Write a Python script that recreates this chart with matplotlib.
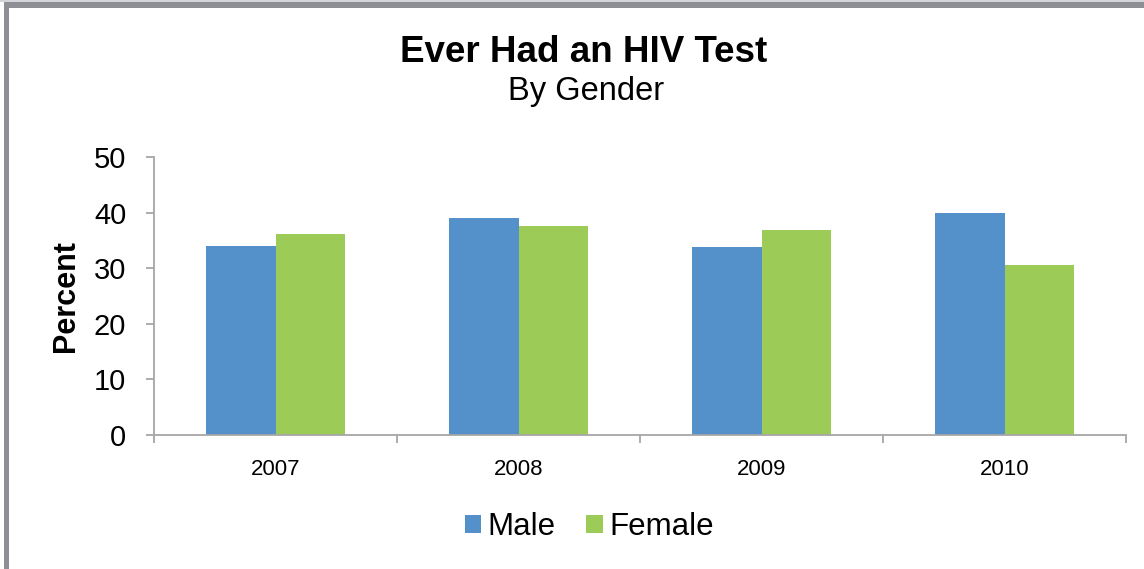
import matplotlib
matplotlib.use("Agg")
import matplotlib.pyplot as plt
import numpy as np
from matplotlib.patches import Rectangle

# chart data
years = ["2007", "2008", "2009", "2010"]
male = [34.0, 39.0, 33.8, 40.0]
female = [36.1, 37.5, 36.9, 30.5]
series_names = ["Male", "Female"]
y_ticks = [0, 10, 20, 30, 40, 50]

plt.rcParams['font.family'] = ['Liberation Sans', 'DejaVu Sans']

W, H = 1144, 569
fig = plt.figure(figsize=(W / 100, H / 100), dpi=100)
fig.patch.set_facecolor("white")

# gray frame on top and left
frame_col = "#8e8f94"
fig.patches.append(Rectangle((4 / W, 0), 5 / W, 1 - 2 / H, transform=fig.transFigure,
                             facecolor=frame_col, edgecolor="none"))
fig.patches.append(Rectangle((4 / W, 1 - 8 / H), 1 - 4 / W, 6 / H, transform=fig.transFigure,
                             facecolor=frame_col, edgecolor="none"))
fig.patches.append(Rectangle((0, 1 - 2 / H), 1, 2 / H, transform=fig.transFigure,
                             facecolor="#d4d5d8", edgecolor="none"))

ax = fig.add_axes([154 / W, 1 - 435 / H, (1126 - 154) / W, (435 - 157) / H])

x = np.arange(len(years))
bw = 0.284
ax.bar(x - bw / 2, male, bw, color="#5490c9", label=series_names[0])
ax.bar(x + bw / 2, female, bw, color="#9dcb58", label=series_names[1])

ax.set_xlim(-0.5, len(years) - 0.5)
ax.set_ylim(0, 50)
ax.set_yticks(y_ticks)
ax.set_xticks(x)
ax.set_xticklabels(years)
ax.set_xticks(np.arange(-0.5, len(years)), minor=True)

axis_col = "#a6a6a6"
for s in ["top", "right"]:
    ax.spines[s].set_visible(False)
ax.spines["left"].set_color(axis_col)
ax.spines["bottom"].set_color(axis_col)
ax.spines["left"].set_linewidth(1.3)
ax.spines["bottom"].set_linewidth(1.3)

ax.tick_params(axis="y", direction="out", length=6, width=1.3, color=axis_col,
               labelsize=21, pad=14)
ax.tick_params(axis="x", which="major", length=0, labelsize=16, pad=17)
ax.tick_params(axis="x", which="minor", direction="out", length=6, width=1.3, color=axis_col)

ax.set_ylabel("Percent", fontsize=22, fontweight="bold")
ax.yaxis.label.set_va("center")
ax.yaxis.set_label_coords((66 - 154) / 972, 0.5)

fig.text(584 / W, 1 - 53 / H, "Ever Had an HIV Test", fontsize=26.5, fontweight="bold",
         ha="center", va="center")
fig.text(586 / W, 1 - 92 / H, "By Gender", fontsize=23.5, ha="center", va="center")

fig.legend(loc="center", bbox_to_anchor=(589 / W, 1 - 527 / H), ncol=2, frameon=False,
           fontsize=22.5, handlelength=0.52, handleheight=0.52, handletextpad=0.2,
           columnspacing=1.0)

fig.savefig("out.png", dpi=100, facecolor="white")
